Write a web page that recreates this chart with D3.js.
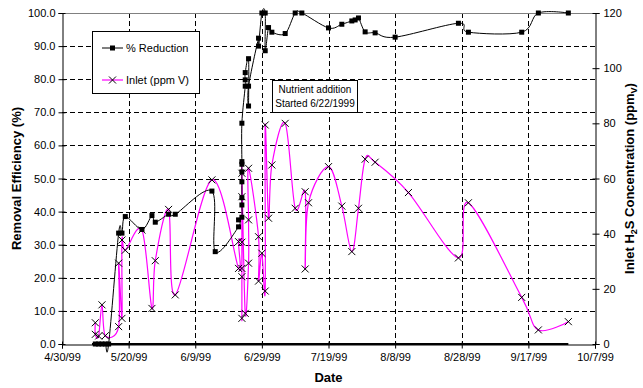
<!DOCTYPE html>
<html>
<head>
<meta charset="utf-8">
<script src="https://cdn.jsdelivr.net/npm/d3@7"></script>
<style>
  body { margin: 0; background: #fff; }
  text { font-family: "Liberation Sans", Arial, sans-serif; }
</style>
</head>
<body>
<svg id="chart" width="643" height="388"></svg>
<script>
// % reduction (left axis)
const reductionDates = ["5/10/99","5/11/99","5/12/99","5/13/99","5/14/99",
  "5/17/99","5/18/99","5/19/99","5/24/99","5/27/99","5/28/99","6/1/99","6/3/99","6/14/99","6/15/99",
  "6/22/99","6/22/99","6/23/99","6/23/99","6/23/99","6/23/99","6/23/99","6/23/99","6/23/99","6/23/99",
  "6/24/99","6/24/99","6/24/99","6/25/99","6/25/99","6/25/99","6/28/99","6/28/99","6/29/99","6/30/99","6/30/99",
  "7/1/99","7/2/99","7/6/99","7/9/99","7/11/99","7/19/99","7/23/99","7/26/99","7/27/99","7/28/99","7/30/99","8/2/99","8/8/99",
  "8/27/99","8/30/99","9/15/99","9/20/99","9/29/99"];
const reductionValues = [0,0,0,0,0,
  33.5,33.5,38.5,34.6,38.8,36.8,39.2,39.2,46.2,27.9,
  35.4,37.5,38.3,42.0,44.2,49.0,52.0,54.3,55.1,66.7,
  77.9,79.8,82.0,86.2,71.9,77.9,92.4,90.0,100,100,88.6,
  95.6,94.2,93.8,100,100,95.5,96.6,97.6,97.9,98.5,94.3,94.0,92.7,
  96.9,94.2,94.2,100,100];

// inlet H2S, ppmV (right axis)
const inletDates = ["5/10/99","5/10/99","5/11/99","5/12/99","5/13/99",
  "5/17/99","5/17/99","5/18/99","5/18/99","5/19/99","5/24/99","5/27/99","5/28/99","6/1/99","6/3/99","6/14/99",
  "6/22/99","6/22/99","6/23/99","6/23/99","6/23/99","6/23/99","6/23/99","6/23/99","6/24/99",
  "6/25/99","6/25/99","6/25/99","6/28/99","6/28/99","6/29/99","6/30/99","6/30/99","7/1/99","7/2/99","7/6/99","7/9/99",
  "7/12/99","7/12/99","7/13/99","7/19/99","7/23/99","7/26/99","7/28/99","7/30/99","8/2/99","8/12/99",
  "8/27/99","8/30/99","9/15/99","9/20/99","9/29/99"];
const inletValues = [7.7,3.5,2.9,14.2,3.0,
  6.3,29.3,9.3,37.7,34.0,41.3,12.9,30.2,48.8,17.8,59.5,
  27.4,37.1,36.9,27.4,24.4,9.3,53.4,61.9,11.1,
  29.3,45.0,63.7,38.9,22.8,32.9,19.2,79.4,45.6,64.9,80.0,49.2,
  55.2,27.2,51.2,64.3,50.0,33.5,49.2,67.0,65.9,54.9,
  31.2,51.2,16.9,5.1,8.1];

// outlet H2S drawn along the zero line
const outletDates = ["5/9/99","9/29/99"];
const outletValues = [0,0];

const dateTicks = ["4/30/99","5/20/99","6/9/99","6/29/99","7/19/99","8/8/99","8/28/99","9/17/99","10/7/99"];
const leftTicks = [0,10,20,30,40,50,60,70,80,90,100];
const rightTicks = [0,20,40,60,80,100,120];

const parse = d3.timeParse("%m/%d/%y");
const width = 643, height = 388;
const margin = {top: 13, right: 48, bottom: 44, left: 62};

const svg = d3.select("#chart");

const x = d3.scaleTime()
  .domain([parse("4/30/99"), parse("10/7/99")])
  .range([margin.left, width - margin.right]);
const yL = d3.scaleLinear().domain([0, 100]).range([height - margin.bottom, margin.top]);
const yR = d3.scaleLinear().domain([0, 120]).range([height - margin.bottom, margin.top]);

// grid
const grid = svg.append("g").attr("stroke", "#000").attr("stroke-dasharray", "5,3").attr("shape-rendering", "crispEdges");
grid.selectAll("line.h").data(leftTicks.slice(1, -1)).enter().append("line")
  .attr("x1", margin.left).attr("x2", width - margin.right)
  .attr("y1", d => Math.round(yL(d)) + 0.5).attr("y2", d => Math.round(yL(d)) + 0.5);
grid.selectAll("line.v").data(dateTicks.slice(1, -1)).enter().append("line")
  .attr("x1", d => Math.round(x(parse(d))) + 0.5).attr("x2", d => Math.round(x(parse(d))) + 0.5)
  .attr("y1", margin.top).attr("y2", height - margin.bottom);

// top border
svg.append("line").attr("x1", margin.left).attr("x2", width - margin.right)
  .attr("y1", margin.top + 0.5).attr("y2", margin.top + 0.5).attr("stroke", "#808080");

// axes
const fmt1 = d3.format(".1f");
const axL = svg.append("g").attr("transform", `translate(${margin.left + 0.5},0)`)
  .call(d3.axisLeft(yL).tickValues(leftTicks).tickFormat(fmt1).tickSize(4).tickPadding(3));
const axR = svg.append("g").attr("transform", `translate(${width - margin.right + 0.5},0)`)
  .call(d3.axisRight(yR).tickValues(rightTicks).tickSize(4).tickPadding(4));
const axB = svg.append("g").attr("transform", `translate(0,${height - margin.bottom + 0.5})`)
  .call(d3.axisBottom(x).tickValues(dateTicks.map(parse)).tickFormat(d3.timeFormat("%-m/%-d/%y")).tickSize(4).tickPadding(5));
[axL, axR, axB].forEach(g => {
  g.select(".domain").attr("stroke", "#000");
  g.selectAll(".tick line").attr("stroke", "#000");
  g.selectAll("text").attr("font-size", 11).attr("fill", "#000")
    .attr("font-family", "'Liberation Sans', Arial, sans-serif");
});
// ticks cross the axis line
axL.selectAll(".tick line").attr("x1", 3);
axR.selectAll(".tick line").attr("x1", -3);
axB.selectAll(".tick line").attr("y1", -3);

const curve = d3.curveCardinal.tension(0);

// outlet line on zero
svg.append("path")
  .datum(outletDates.map((d, i) => [parse(d), outletValues[i]]))
  .attr("fill", "none").attr("stroke", "#000").attr("stroke-width", 2)
  .attr("d", d3.line().x(d => x(d[0])).y(d => yR(d[1])));

// inlet line
const inlet = inletDates.map((d, i) => [parse(d), inletValues[i]]);
svg.append("path").datum(inlet)
  .attr("fill", "none").attr("stroke", "#ff00ff").attr("stroke-width", 1.2)
  .attr("d", d3.line().x(d => x(d[0])).y(d => yR(d[1])).curve(curve));

// reduction line
const red = reductionDates.map((d, i) => [parse(d), reductionValues[i]]);
svg.append("path").datum(red)
  .attr("fill", "none").attr("stroke", "#000").attr("stroke-width", 1)
  .attr("d", d3.line().x(d => x(d[0])).y(d => yL(d[1])).curve(curve));

// markers
svg.selectAll("rect.red").data(red).enter().append("rect")
  .attr("x", d => x(d[0]) - 2.5).attr("y", d => yL(d[1]) - 2.5)
  .attr("width", 5).attr("height", 5).attr("fill", "#000");

const cross = (g, cx, cy) => g.append("path")
  .attr("d", `M${cx - 3.5},${cy - 3.5}L${cx + 3.5},${cy + 3.5}M${cx - 3.5},${cy + 3.5}L${cx + 3.5},${cy - 3.5}`)
  .attr("stroke", "#000").attr("stroke-width", 1).attr("fill", "none");
const xg = svg.append("g");
inlet.forEach(d => cross(xg, x(d[0]), yR(d[1])));

// legend
const lg = svg.append("g");
lg.append("rect").attr("x", 92.5).attr("y", 31.5).attr("width", 107).attr("height", 62)
  .attr("fill", "#fff").attr("stroke", "#000");
lg.append("line").attr("x1", 102).attr("x2", 123).attr("y1", 48).attr("y2", 48).attr("stroke", "#000");
lg.append("rect").attr("x", 110).attr("y", 45.5).attr("width", 5).attr("height", 5).attr("fill", "#000");
lg.append("text").attr("x", 126).attr("y", 52).attr("font-size", 11).text("% Reduction");
lg.append("line").attr("x1", 102).attr("x2", 123).attr("y1", 80).attr("y2", 80).attr("stroke", "#ff00ff").attr("stroke-width", 1.2);
cross(lg, 112.5, 80);
lg.append("text").attr("x", 126).attr("y", 84).attr("font-size", 11).text("Inlet (ppm V)");

// annotation
const an = svg.append("g");
an.append("rect").attr("x", 272.5).attr("y", 80.5).attr("width", 85).attr("height", 32)
  .attr("fill", "#fff").attr("stroke", "#000");
an.append("text").attr("x", 315).attr("y", 93).attr("text-anchor", "middle").attr("font-size", 10).text("Nutrient addition");
an.append("text").attr("x", 315).attr("y", 107).attr("text-anchor", "middle").attr("font-size", 10).text("Started 6/22/1999");

// axis titles
svg.append("text").attr("transform", `translate(21,${(margin.top + height - margin.bottom) / 2}) rotate(-90)`)
  .attr("text-anchor", "middle").attr("font-size", 13).attr("font-weight", "bold").text("Removal Efficiency (%)");
const rt = svg.append("text").attr("transform", `translate(634,${(margin.top + height - margin.bottom) / 2}) rotate(-90)`)
  .attr("text-anchor", "middle").attr("font-size", 13).attr("font-weight", "bold");
rt.append("tspan").text("Inlet H");
rt.append("tspan").attr("font-size", 9).attr("dy", 3).text("2");
rt.append("tspan").attr("dy", -3).text("S Concentration (ppm");
rt.append("tspan").attr("font-size", 9).attr("dy", 3).text("V");
rt.append("tspan").attr("dy", -3).text(")");
svg.append("text").attr("x", (margin.left + width - margin.right) / 2).attr("y", 382)
  .attr("text-anchor", "middle").attr("font-size", 13).attr("font-weight", "bold").text("Date");
</script>
</body>
</html>
